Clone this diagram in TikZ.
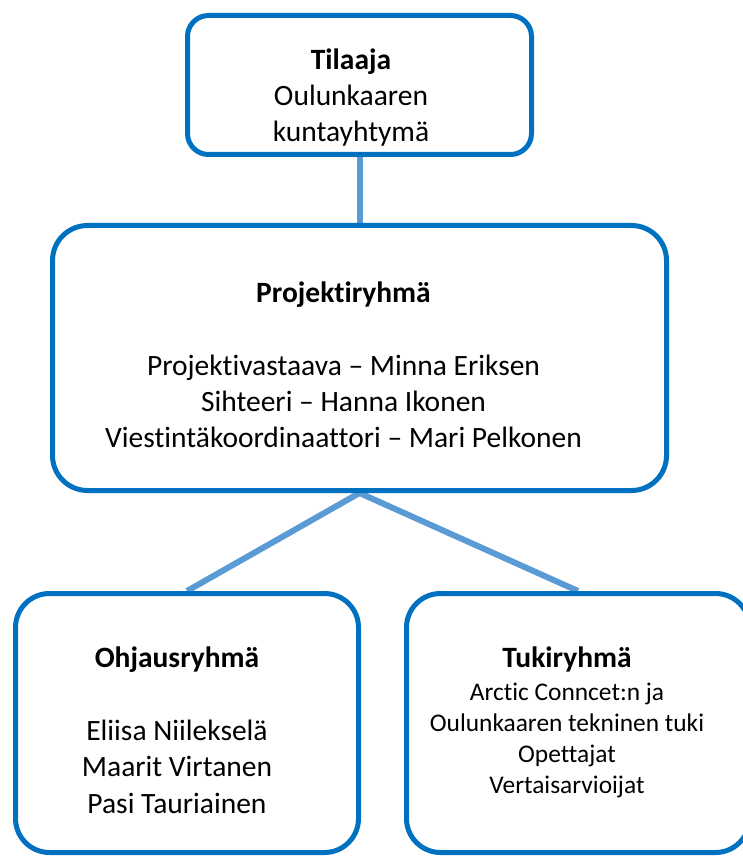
\documentclass[tikz,border=0pt]{standalone}
\usepackage{fontspec}
\setmainfont[Ligatures={NoCommon,NoContextual}]{Carlito}
\usetikzlibrary{backgrounds}
\definecolor{boxblue}{RGB}{0,112,192}
\definecolor{linkblue}{RGB}{91,155,213}
\begin{document}
\begin{tikzpicture}[x=1pt,y=-1pt,
  grp/.style={draw=boxblue, line width=5pt, fill=white, inner sep=0pt},
  link/.style={draw=linkblue, line width=6pt},
  ttl/.style={anchor=base, font=\fontsize{29.5}{36}\selectfont\bfseries, text=black, inner sep=0pt},
  txt/.style={anchor=base, font=\fontsize{29.5}{36}\selectfont, text=black, inner sep=0pt},
  small/.style={anchor=base, font=\fontsize{25.4}{31}\selectfont, text=black, inner sep=0pt}]
\useasboundingbox (0,0) rectangle (743,858);
\clip (0,0) rectangle (743,858);
% boxes
\node[grp, rounded corners=21pt, minimum width=344pt, minimum height=139pt] (top) at (359.5,85) {};
\node[grp, rounded corners=35pt, minimum width=614pt, minimum height=265pt] (mid) at (359.5,358) {};
\node[grp, rounded corners=34pt, minimum width=343pt, minimum height=259pt] (left) at (187,723) {};
\node[grp, rounded corners=34pt, minimum width=343pt, minimum height=259pt] (right) at (578,723) {};
% connectors behind boxes
\begin{scope}[on background layer]
\path[link] (top.south) -- (mid.north);
\path[link] (mid.south) -- (left.north);
\path[link] (mid.south) -- (right.north);
\end{scope}
% texts
\node[ttl] (t1) at (351,69.5) {Tilaaja};
\node[txt] (t2) at (351,106) {Oulunkaaren};
\node[txt] (t3) at (351,141.5) {kuntayhtymä};
\node[ttl] (m1) at (343.5,302) {Projektiryhmä};
\node[txt] (m2) at (343.5,375) {Projektivastaava – Minna Eriksen};
\node[txt] (m3) at (343.5,411) {Sihteeri – Hanna Ikonen};
\node[txt] (m4) at (343.5,447) {Viestintäkoordinaattori – Mari Pelkonen};
\node[ttl] (l1) at (177,667) {Ohjausryhmä};
\node[txt] (l2) at (177,740) {Eliisa Niilekselä};
\node[txt] (l3) at (177,776.5) {Maarit Virtanen};
\node[txt] (l4) at (177,813) {Pasi Tauriainen};
\node[ttl] (r1) at (567,667) {Tukiryhmä};
\node[small] (r2) at (567,700) {Arctic Conncet:n ja};
\node[small] (r3) at (567,731) {Oulunkaaren tekninen tuki};
\node[small] (r4) at (567,762) {Opettajat};
\node[small] (r5) at (567,793) {Vertaisarvioijat};
\end{tikzpicture}
\end{document}
